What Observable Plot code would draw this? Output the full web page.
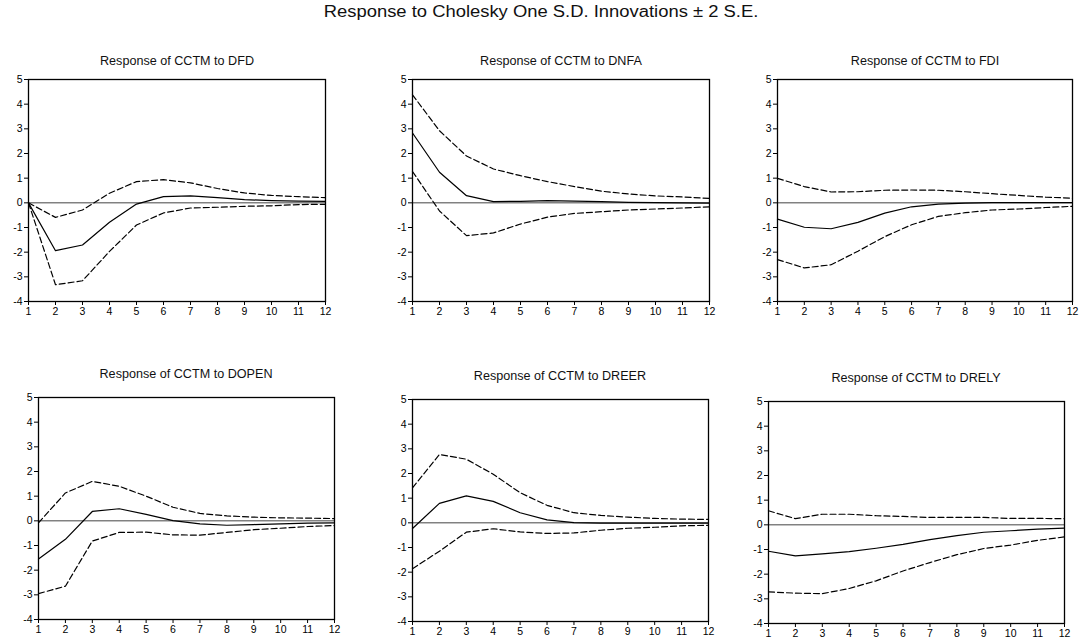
<!DOCTYPE html>
<html><head><meta charset="utf-8">
<script src="https://cdn.jsdelivr.net/npm/d3@7"></script>
<script src="https://cdn.jsdelivr.net/npm/@observablehq/plot@0.6"></script>
<style>
body{margin:0;background:#fff;font-family:"Liberation Sans",Arial,sans-serif;}
#root{position:relative;width:1083px;height:643px;overflow:hidden;background:#fff;}
.t{position:absolute;white-space:nowrap;color:#111;}
.p{position:absolute;}
</style></head><body><div id="root"></div>
<script>
// ---- data ----
const steps = [1,2,3,4,5,6,7,8,9,10,11,12];
const xTicks = [1,2,3,4,5,6,7,8,9,10,11,12];
const yTicks = [-4,-3,-2,-1,0,1,2,3,4,5];
const mainTitle = "Response to Cholesky One S.D. Innovations ± 2 S.E.";
const titles = ["Response of CCTM to DFD","Response of CCTM to DNFA","Response of CCTM to FDI",
                "Response of CCTM to DOPEN","Response of CCTM to DREER","Response of CCTM to DRELY"];

const respDFD  = [0, -1.94, -1.71, -0.79, -0.05, 0.25, 0.28, 0.21, 0.13, 0.09, 0.07, 0.06];
const upperDFD = [0, -0.59, -0.29, 0.39, 0.86, 0.94, 0.81, 0.58, 0.40, 0.30, 0.25, 0.21];
const lowerDFD = [0, -3.32, -3.16, -1.97, -0.90, -0.41, -0.21, -0.18, -0.14, -0.12, -0.07, -0.06];

const respDNFA  = [2.83, 1.24, 0.29, 0.05, 0.06, 0.09, 0.07, 0.05, 0.02, 0.01, 0.0, -0.01];
const upperDNFA = [4.38, 2.92, 1.90, 1.37, 1.10, 0.86, 0.66, 0.47, 0.36, 0.28, 0.24, 0.18];
const lowerDNFA = [1.27, -0.33, -1.33, -1.22, -0.86, -0.58, -0.43, -0.36, -0.29, -0.25, -0.21, -0.16];

const respFDI  = [-0.66, -0.99, -1.05, -0.79, -0.42, -0.16, -0.05, -0.01, 0.01, 0.01, 0.01, 0.01];
const upperFDI = [0.99, 0.66, 0.44, 0.45, 0.51, 0.52, 0.51, 0.45, 0.37, 0.30, 0.23, 0.19];
const lowerFDI = [-2.30, -2.64, -2.51, -1.96, -1.37, -0.89, -0.55, -0.40, -0.29, -0.25, -0.19, -0.14];

const respDOPEN  = [-1.55, -0.75, 0.38, 0.49, 0.26, 0.01, -0.12, -0.18, -0.15, -0.12, -0.09, -0.08];
const upperDOPEN = [-0.08, 1.13, 1.60, 1.40, 1.00, 0.55, 0.30, 0.20, 0.15, 0.12, 0.11, 0.09];
const lowerDOPEN = [-2.95, -2.65, -0.82, -0.47, -0.46, -0.57, -0.58, -0.47, -0.36, -0.30, -0.23, -0.19];

const respDREER  = [-0.23, 0.79, 1.09, 0.87, 0.41, 0.12, 0.01, -0.01, -0.01, -0.01, -0.01, -0.01];
const upperDREER = [1.42, 2.77, 2.58, 1.97, 1.22, 0.71, 0.41, 0.30, 0.23, 0.18, 0.15, 0.14];
const lowerDREER = [-1.86, -1.15, -0.38, -0.24, -0.37, -0.43, -0.41, -0.30, -0.22, -0.18, -0.12, -0.10];

const respDRELY  = [-1.07, -1.26, -1.18, -1.09, -0.95, -0.79, -0.60, -0.44, -0.30, -0.24, -0.17, -0.13];
const upperDRELY = [0.57, 0.25, 0.43, 0.43, 0.37, 0.34, 0.30, 0.30, 0.30, 0.26, 0.26, 0.25];
const lowerDRELY = [-2.72, -2.77, -2.79, -2.58, -2.27, -1.87, -1.53, -1.21, -0.96, -0.82, -0.63, -0.49];

const series = [
  [respDFD, upperDFD, lowerDFD],
  [respDNFA, upperDNFA, lowerDNFA],
  [respFDI, upperFDI, lowerFDI],
  [respDOPEN, upperDOPEN, lowerDOPEN],
  [respDREER, upperDREER, lowerDREER],
  [respDRELY, upperDRELY, lowerDRELY]
];

// ---- layout (plot frame boxes in page pixels) ----
const frames = [
  {l: 28,  r: 325,  t: 79,  b: 301, ty: 62},
  {l: 412, r: 709,  t: 79,  b: 301, ty: 62},
  {l: 777, r: 1072, t: 79,  b: 301, ty: 62},
  {l: 38,  r: 334,  t: 397, b: 619, ty: 375},
  {l: 412, r: 708,  t: 399, b: 621, ty: 377},
  {l: 768, r: 1064, t: 401, b: 623, ty: 379}
];

const root = document.getElementById("root");
function addText(txt, cx, cy, size, sx) {
  const d = document.createElement("div");
  d.className = "t";
  d.textContent = txt;
  d.style.left = cx + "px";
  d.style.top = (cy - size * 0.55) + "px";
  d.style.fontSize = size + "px";
  d.style.lineHeight = size + "px";
  d.style.transform = `translateX(-50%) scaleX(${sx})`;
  root.appendChild(d);
}
addText(mainTitle, 541, 13, 16, 1.15);

const ML = 30, MR = 10, MT = 10, MB = 24;
frames.forEach((f, i) => {
  const [resp, up, lo] = series[i];
  const mk = arr => steps.map((s, k) => ({step: s, v: arr[k]}));
  const w = f.r - f.l, h = f.b - f.t;
  const chart = Plot.plot({
    width: w + ML + MR, height: h + MT + MB,
    marginLeft: ML, marginRight: MR, marginTop: MT, marginBottom: MB,
    style: {fontFamily: '"Liberation Sans", Arial, sans-serif', fontSize: "10.5px", color: "#000", background: "transparent", overflow: "visible"},
    x: {domain: [1, 12], ticks: xTicks, tickFormat: d => String(d), tickSize: 4, tickPadding: 2, label: null},
    y: {domain: [-4, 5], ticks: yTicks, tickFormat: d => String(d), tickSize: 4, tickPadding: 2, label: null},
    marks: [
      Plot.ruleY([0], {stroke: "#444", strokeWidth: 1}),
      Plot.line(mk(up), {x: "step", y: "v", stroke: "#000", strokeWidth: 1.2, strokeDasharray: "6,3"}),
      Plot.line(mk(lo), {x: "step", y: "v", stroke: "#000", strokeWidth: 1.2, strokeDasharray: "6,3"}),
      Plot.line(mk(resp), {x: "step", y: "v", stroke: "#000", strokeWidth: 1.2}),
      Plot.frame({stroke: "#000", strokeWidth: 1.3})
    ]
  });
  const holder = document.createElement("div");
  holder.className = "p";
  holder.style.left = (f.l - ML) + "px";
  holder.style.top = (f.t - MT) + "px";
  holder.appendChild(chart);
  root.appendChild(holder);
  addText(titles[i], (f.l + f.r) / 2, f.ty, 12, 1.05);
});
</script></body></html>
